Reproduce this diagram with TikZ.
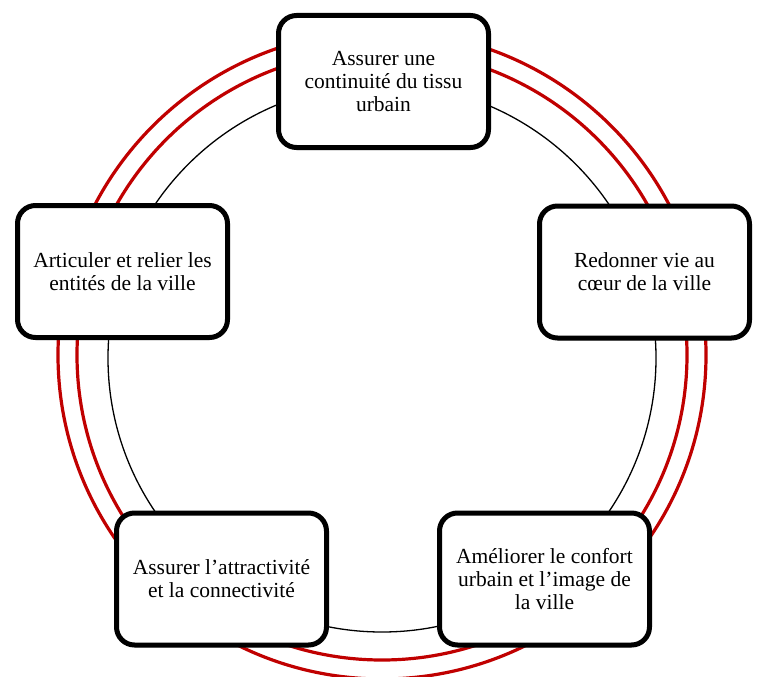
\documentclass[tikz,border=0pt]{standalone}
\usepackage{fontspec}
\setmainfont{Liberation Serif}
\usetikzlibrary{shadows}
\definecolor{ringred}{HTML}{C00000}
\begin{document}
\begin{tikzpicture}[x=1pt,y=-1pt,
  goalbox/.style={draw=black, line width=5pt, fill=white, rounded corners=18pt,
    minimum width=210pt, minimum height=132pt, align=center,
    font=\fontsize{21.5}{23}\selectfont, inner sep=2pt,
    drop shadow={opacity=0.25, shadow xshift=1pt, shadow yshift=-2.5pt}},
  redring/.style={draw=ringred, line width=3.2pt},
  blackring/.style={draw=black, line width=1.3pt}]
\useasboundingbox (0,0) rectangle (760,677);
\coordinate (c) at (382,355);
\coordinate (cb) at (382,358);
\draw[redring] (c) circle[radius=324pt];
\draw[redring] (c) circle[radius=305pt];
\draw[blackring] (cb) circle[radius=274pt];
\node[goalbox] (top) at (383.5,81.5) {Assurer une\\continuité du tissu\\urbain};
\node[goalbox] (left) at (122.5,271.5) {Articuler et relier les\\entités de la ville};
\node[goalbox] (right) at (644.5,272) {Redonner vie au\\cœur de la ville};
\node[goalbox] (bl) at (221.5,579) {Assurer l’attractivité\\et la connectivité};
\node[goalbox] (br) at (544.5,579) {Améliorer le confort\\urbain et l’image de\\la ville};
\end{tikzpicture}
\end{document}
